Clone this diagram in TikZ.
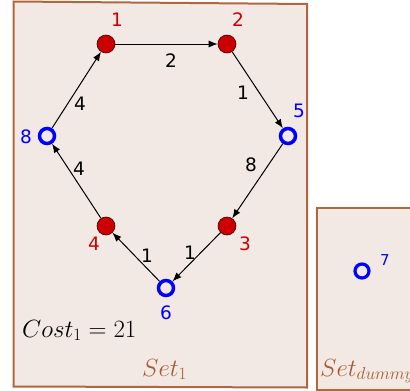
\documentclass[tikz,border=0pt]{standalone}
\usepackage{fontspec}
\newfontfamily\lblfont{DejaVu Sans}
\usetikzlibrary{arrows.meta}
\definecolor{bgfill}{HTML}{F2E9E4}
\definecolor{frame}{HTML}{B0663E}
\definecolor{nodered}{HTML}{CC0000}
\definecolor{setbrown}{HTML}{A85C2E}
\tikzset{
  redv/.style={circle, fill=nodered, draw=black!70!nodered, line width=0.6pt, minimum size=18pt, inner sep=0pt},
  bluev/.style={circle, draw=blue, line width=3.5pt, fill=bgfill, minimum size=15pt, inner sep=0pt},
  vlab/.style={font=\lblfont\fontsize{18.5}{20}\selectfont, inner sep=0pt},
  elab/.style={font=\lblfont\fontsize{18.5}{20}\selectfont, inner sep=0pt, text=black},
  edge/.style={draw=black, line width=1pt, -{Latex[length=9pt,width=7pt]}},
  setbox/.style={fill=bgfill, draw=frame, line width=2pt},
  settext/.style={text=setbrown, font=\fontsize{23.5}{28}\selectfont, inner sep=0pt, anchor=base west}
}
\begin{document}
\begin{tikzpicture}[x=1pt,y=-1pt]
\useasboundingbox (0,0) rectangle (410,391);
% sets
\draw[setbox] (13.5,1.5) -- (307,4) -- (307,387.5) -- (13.5,386.5) -- cycle;
\draw[setbox] (317,208) -- (420,208) -- (420,390) -- (317,390) -- cycle;
% vertices
\node[redv] (v1) at (106,44) {};
\node[redv] (v2) at (227,44) {};
\node[bluev] (v5) at (288,136) {};
\node[redv] (v3) at (227,226) {};
\node[bluev] (v6) at (166,288) {};
\node[redv] (v4) at (106,226) {};
\node[bluev] (v8) at (47,136) {};
\node[bluev, line width=3.2pt, minimum size=14pt] (v7) at (362,271) {};
% vertex labels
\node[vlab, text=nodered] (l1) at (117,20) {1};
\node[vlab, text=nodered] (l2) at (238,20) {2};
\node[vlab, text=blue] (l5) at (299,111) {5};
\node[vlab, text=nodered] (l3) at (245,244) {3};
\node[vlab, text=blue] (l6) at (166,313) {6};
\node[vlab, text=nodered] (l4) at (94,244) {4};
\node[vlab, text=blue] (l8) at (26,137) {8};
\node[vlab, text=blue, font=\lblfont\fontsize{15}{17}\selectfont] (l7) at (385,260) {7};
% edges
\draw[edge] (v1) -- (v2);
\draw[edge] (v2) -- (v5);
\draw[edge] (v5) -- (v3);
\draw[edge] (v3) -- (v6);
\draw[edge] (v6) -- (v4);
\draw[edge] (v4) -- (v8);
\draw[edge] (v8) -- (v1);
% edge labels
\node[elab] (e12) at (171,61) {2};
\node[elab] (e25) at (243,93) {1};
\node[elab] (e53) at (251,165) {8};
\node[elab] (e36) at (190,253) {1};
\node[elab] (e64) at (147,256) {1};
\node[elab] (e48) at (79,169) {4};
\node[elab] (e81) at (80,104) {4};
% texts
\node[inner sep=0pt, anchor=base west, font=\fontsize{23.5}{28}\selectfont] (cost) at (22,337) {$Cost_1=21$};
\node[settext] (s1) at (142,376) {$Set_1$};
\node[settext] (sd) at (320,376) {$Set_{dummy}$};
\end{tikzpicture}
\end{document}
